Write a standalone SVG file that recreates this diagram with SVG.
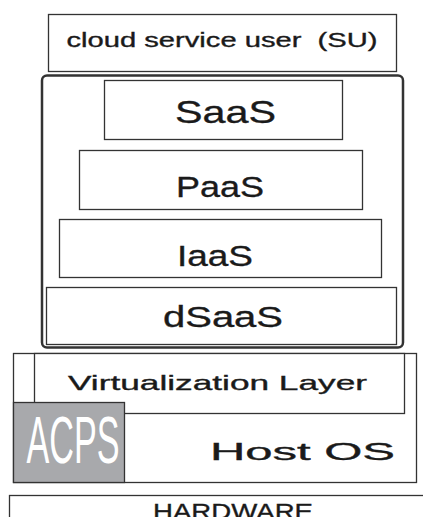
<svg xmlns="http://www.w3.org/2000/svg" width="423" height="517" viewBox="0 0 423 517">
<style>
.box{fill:#fff;stroke:#333;stroke-width:1.3}
.t{font-family:"Liberation Sans",Arial,sans-serif;fill:#1a1a1a;stroke:#1a1a1a;stroke-width:0.35}
</style>
<rect width="423" height="517" fill="#fff"/>
<g id="su"><rect class="box" x="48.5" y="14.5" width="348" height="57"/>
<text class="t" x="222" y="47" font-size="20" text-anchor="middle" textLength="311" lengthAdjust="spacingAndGlyphs" xml:space="preserve">cloud service user  (SU)</text></g>
<g id="cloud"><rect x="42" y="75.5" width="361" height="272" rx="5" fill="#fff" stroke="#333" stroke-width="2.5"/></g>
<g id="saas"><rect class="box" x="104.5" y="80.5" width="238" height="59"/>
<text class="t" x="225.5" y="123" font-size="32" text-anchor="middle" textLength="101" lengthAdjust="spacingAndGlyphs">SaaS</text></g>
<g id="paas"><rect class="box" x="79.5" y="150.5" width="283" height="59"/>
<text class="t" x="220" y="196.5" font-size="30" text-anchor="middle" textLength="88" lengthAdjust="spacingAndGlyphs">PaaS</text></g>
<g id="iaas"><rect class="box" x="59.5" y="219.5" width="322" height="58"/>
<text class="t" x="215" y="265.5" font-size="30" text-anchor="middle" textLength="76" lengthAdjust="spacingAndGlyphs">IaaS</text></g>
<g id="dsaas"><rect class="box" x="46.5" y="287.5" width="350" height="57"/>
<text class="t" x="223" y="326.5" font-size="30" text-anchor="middle" textLength="120" lengthAdjust="spacingAndGlyphs">dSaaS</text></g>
<g id="hostos"><rect class="box" x="13.5" y="353.5" width="403" height="129"/>
<text class="t" x="302.5" y="460" font-size="24" text-anchor="middle" textLength="185" lengthAdjust="spacingAndGlyphs">Host OS</text></g>
<g id="virt"><rect class="box" x="34.5" y="353.5" width="370" height="60"/>
<text class="t" x="217.5" y="390" font-size="21" text-anchor="middle" textLength="299" lengthAdjust="spacingAndGlyphs">Virtualization Layer</text></g>
<g id="acps"><rect x="13.5" y="402.5" width="111" height="80" fill="#a8a9ac" stroke="#333" stroke-width="1.3"/>
<text x="73" y="463" font-family="'Liberation Sans Narrow','Liberation Sans',sans-serif" font-size="66" fill="#fff" text-anchor="middle" textLength="93" lengthAdjust="spacingAndGlyphs">ACPS</text></g>
<g id="hardware"><rect class="box" x="9.5" y="495.5" width="420" height="30"/>
<text class="t" x="233" y="519" font-size="22" text-anchor="middle" textLength="160" lengthAdjust="spacingAndGlyphs">HARDWARE</text></g>
<g id="connectors"/>
</svg>
